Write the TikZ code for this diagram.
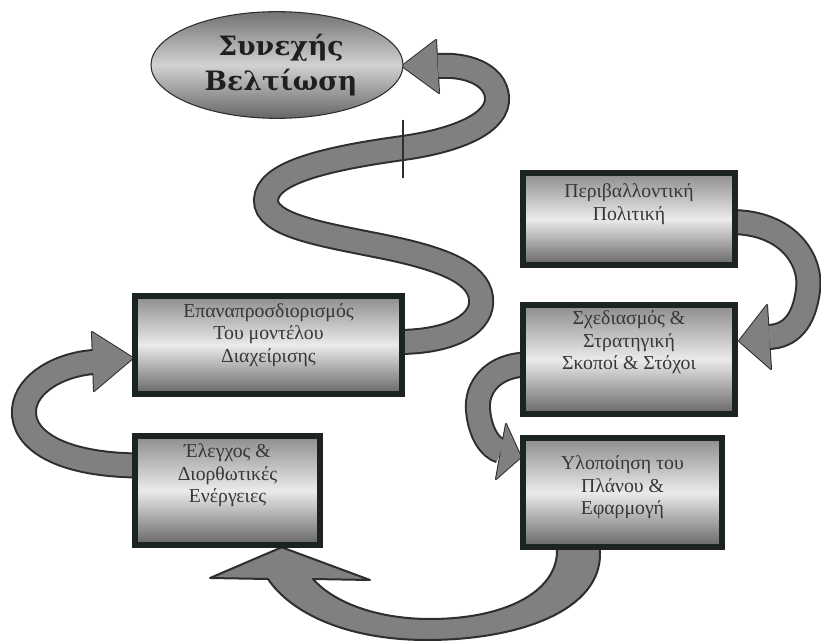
\documentclass[tikz,border=0pt]{standalone}
\usepackage{fontspec}
\setmainfont{Liberation Serif}
\newfontfamily\ellfont{DejaVu Serif}
\usetikzlibrary{shapes.geometric,calc}
\definecolor{ribfill}{RGB}{128,128,128}
\definecolor{ribedge}{RGB}{45,45,50}
\definecolor{frame}{RGB}{28,36,32}
\definecolor{boxtext}{RGB}{55,55,55}
\begin{document}
\begin{tikzpicture}[x=0.75pt,y=-0.75pt,
  box/.style={draw=frame, line width=4.5pt, top color=black!45, bottom color=black!60, middle color=black!8, inner sep=0pt},
  boxtxt/.style={align=center, text=boxtext, font=\fontsize{14.8}{16.8}\selectfont, inner sep=0pt},
  ell/.style={ellipse, draw=ribedge, line width=0.8pt, top color=black!55, bottom color=black!60, middle color=black!18, minimum width=189pt, minimum height=80pt, inner sep=0pt},
  elltxt/.style={align=center, font=\ellfont\bfseries\fontsize{20}{26.5}\selectfont, text=black!88, inner sep=0pt},
  ribout/.style={draw=ribedge, line width=19.5pt},
  ribin/.style={draw=ribfill, line width=16.5pt},
  headout/.style={fill=ribedge, draw=ribedge, line width=1.5pt, line join=round},
  headin/.style={fill=ribfill},
  ribshape/.style={fill=ribfill, draw=ribedge, line width=1.5pt, line join=round}]
\useasboundingbox (0,0) rectangle (821,641);

% ---- node placeholders (positions) ----
\path (629,219) node[minimum width=159pt, minimum height=69pt, inner sep=0pt] (A) {};
\path (629,359.5) node[minimum width=159pt, minimum height=81.75pt, inner sep=0pt] (B) {};
\path (622.5,492.5) node[minimum width=149.25pt, minimum height=81.75pt, inner sep=0pt] (C) {};
\path (268.5,345) node[minimum width=200.25pt, minimum height=73.5pt, inner sep=0pt] (D) {};
\path (227.5,490.5) node[minimum width=138.75pt, minimum height=81.75pt, inner sep=0pt] (E) {};
\path (277,65) node[ellipse, minimum width=189pt, minimum height=80pt, inner sep=0pt] (S) {};

% ---- ribbon A -> B ----
\def\pA{($(A.east)+(-5,3)$) .. controls (790,222) and (812,262) .. (808,290) .. controls (804,322) and (790,336) .. (769,337)}
\draw[ribout] \pA;
\filldraw[headout] (767,305) -- (739,341) -- (771,369) -- cycle;
\draw[ribin] \pA;
\fill[headin] (767,305) -- (739,341) -- (771,369) -- cycle;

% ---- ribbon B -> C ----
\def\pB{($(B.west)+(5,5)$) .. controls (492,365) and (476,388) .. (478,410) .. controls (480,433) and (490,448) .. (501,451)}
\draw[ribout] \pB;
\filldraw[headout] (506,424) -- (521,457) -- (496,479) -- cycle;
\draw[ribin] \pB;
\fill[headin] (506,424) -- (521,457) -- (496,479) -- cycle;

% ---- ribbon C -> E ----
\filldraw[ribshape] ($(C.south west)+(34,-8)$) -- ($(C.south west)+(77,-8)$) -- (600,552)
  .. controls (602,610) and (520,640) .. (427,640)
  .. controls (345,640) and (290,612) .. (268,579)
  -- (210,578) -- ($(E.south west)+(147,2)$) -- (370,580) -- (313,579)
  .. controls (335,604) and (380,619) .. (430,619)
  .. controls (505,619) and (556,592) .. (557,552) -- cycle;

% ---- ribbon E -> D ----
\def\pD{($(E.west)+(5,-25)$) .. controls (60,465) and (22,440) .. (24,410) .. controls (26,382) and (62,364) .. (94,362)}
\draw[ribout] \pD;
\filldraw[headout] (92,332) -- (133,358) -- (94,391) -- cycle;
\draw[ribin] \pD;
\fill[headin] (92,332) -- (133,358) -- (94,391) -- cycle;

% ---- ribbon D -> S (S-shaped) ----
\def\pE{($(D.east)+(-5,-3)$) .. controls (455,342) and (484,322) .. (481,298) .. controls (478,272) and (440,258) .. (380,246) .. controls (320,234) and (265,225) .. (266,200) .. controls (267,175) and (315,160) .. (403,148) .. controls (460,140) and (499,122) .. (497,97) .. controls (495,74) and (466,64) .. (438,66)}
\draw[ribout] \pE;
\filldraw[headout] (436,40) -- (402,66) -- (439,93) -- cycle;
\draw[ribin] \pE;
\fill[headin] (436,40) -- (402,66) -- (439,93) -- cycle;
\draw[ribedge, line width=0.9pt] (403,120) -- (403,178);

% ---- boxes ----
\node[box, minimum width=159pt, minimum height=69pt] (Ab) at (A) {};
\node[box, minimum width=159pt, minimum height=81.75pt] (Bb) at (B) {};
\node[box, minimum width=149.25pt, minimum height=81.75pt] (Cb) at (C) {};
\node[box, minimum width=200.25pt, minimum height=73.5pt] (Db) at (D) {};
\node[box, minimum width=138.75pt, minimum height=81.75pt] (Eb) at (E) {};
\node[ell] (Sb) at (S) {};

% ---- texts ----
\node[boxtxt] (At) at ($(A)+(0,-15)$) {Περιβαλλοντική\\Πολιτική};
\node[boxtxt] (Bt) at ($(B)+(0,-17)$) {Σχεδιασμός \&\\Στρατηγική\\Σκοποί \& Στόχοι};
\node[boxtxt] (Ct) at ($(C)+(0,-5)$) {Υλοποίηση του\\Πλάνου \&\\Εφαρμογή};
\node[boxtxt] (Dt) at ($(D)+(0,-10)$) {Επαναπροσδιορισμός\\Του μοντέλου\\Διαχείρισης};
\node[boxtxt] (Et) at ($(E)+(0,-15)$) {Έλεγχος \&\\Διορθωτικές\\Ενέργειες};
\node[elltxt] (St) at ($(S)+(4,0)$) {Συνεχής\\Βελτίωση};
\end{tikzpicture}
\end{document}
